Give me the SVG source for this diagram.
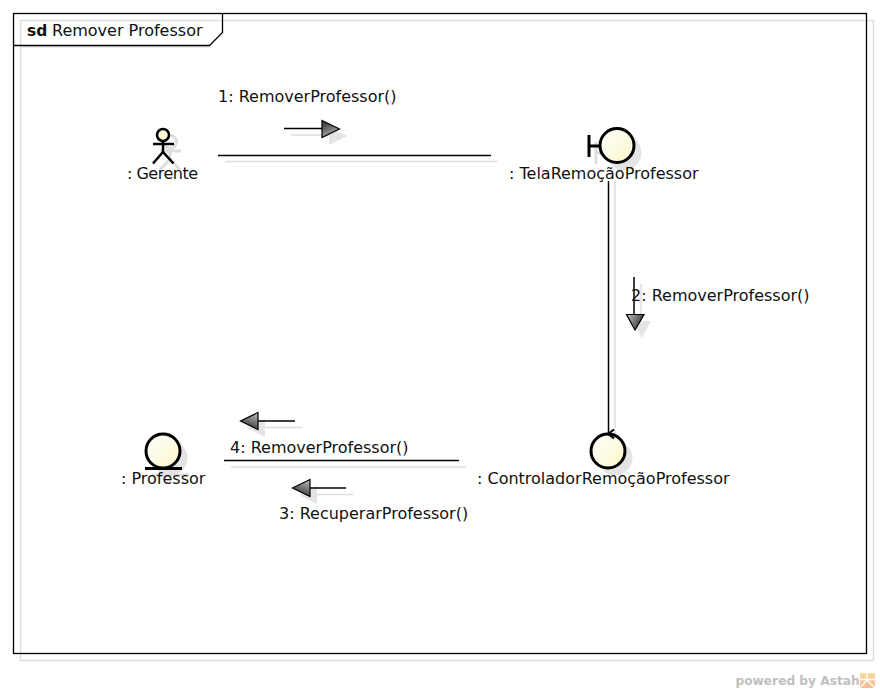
<svg xmlns="http://www.w3.org/2000/svg" width="880" height="693" viewBox="0 0 880 693">
<style>
text{font-family:"DejaVu Sans",sans-serif;font-size:16px;fill:#111}
.l{fill:none;stroke:#000;stroke-width:1.5}
.i{fill:none;stroke:#000;stroke-width:3}
.s{fill:none;stroke:#dedede;stroke-width:1.5}
.sf{fill:#e4e4e4;stroke:none}
.sc{fill:none;stroke:#dedede;stroke-width:3}
.c{fill:url(#cream);stroke:#000;stroke-width:3}
.h{stroke:#000;stroke-width:1.2}
</style>
<defs>
<linearGradient id="cream" x1="0" y1="0" x2="1" y2="1"><stop offset="0" stop-color="#ffffff"/><stop offset="1" stop-color="#fbf7c8"/></linearGradient>
<linearGradient id="gr" x1="0.2" y1="0" x2="0.6" y2="1"><stop offset="0" stop-color="#303030"/><stop offset="1" stop-color="#b8b8b8"/></linearGradient>
<linearGradient id="gd" x1="1" y1="0.6" x2="0" y2="0.2"><stop offset="0" stop-color="#303030"/><stop offset="1" stop-color="#b8b8b8"/></linearGradient>
<linearGradient id="gl" x1="0.4" y1="1" x2="0.8" y2="0"><stop offset="0" stop-color="#303030"/><stop offset="1" stop-color="#b8b8b8"/></linearGradient>
<linearGradient id="logo" x1="0" y1="0" x2="0" y2="1"><stop offset="0" stop-color="#fbdc9c"/><stop offset="1" stop-color="#f5b898"/></linearGradient>
</defs>
<rect width="880" height="693" fill="#fff"/>
<g id="frame">
<rect x="20.500" y="20.500" width="853" height="640" fill="none" stroke="#dedede" stroke-width="1.500"/>
<path d="M20 46.800H209" fill="none" stroke="#dedede" stroke-width="1.500"/>
<rect x="13.500" y="13.500" width="853" height="640" fill="none" stroke="#000" stroke-width="1.300"/>
<path d="M13 45.500H209.500L222.500 32.500V14" fill="none" stroke="#000" stroke-width="1.300"/>
<text x="27" y="36" style="font-weight:bold;font-size:15.500px">sd</text>
<text x="52" y="36">Remover Professor</text>
</g>
<g id="connectors">
<path class="s" d="M225 161.500H498M615 181V440M231 467H466"/>
<path class="l" d="M218 155.500H491M608.500 181V434M224 460.500H459"/>
<g id="msg1">
<path class="s" d="M291 135H329"/><path class="sf" d="M329 127L347 136L329 145Z"/>
<path class="l" d="M284 128.500H322"/><path class="h" fill="url(#gr)" d="M322 120.500L339.500 129L322 137.500Z"/>
<text x="218" y="102">1: RemoverProfessor()</text>
</g>
<g id="msg2">
<path class="s" d="M641 284V321"/><path class="sf" d="M633 321L651 321L642 338Z"/>
<path class="l" d="M634 277V314"/><path class="h" fill="url(#gd)" d="M626.500 314.500H644L635 330Z"/>
<text x="631" y="301">2: RemoverProfessor()</text>
</g>
<g id="msg3">
<path class="s" d="M317 494.500H353"/><path class="sf" d="M317 486L299 495L317 504Z"/>
<path class="l" d="M310 488H346"/><path class="h" fill="url(#gl)" d="M310 479.500L292.500 488L310 496.500Z"/>
<text x="279" y="519">3: RecuperarProfessor()</text>
</g>
<g id="msg4">
<path class="s" d="M265 427.500H302"/><path class="sf" d="M265 419L247 428L265 437Z"/>
<path class="l" d="M258 421H295"/><path class="h" fill="url(#gl)" d="M258 412.500L240.500 421L258 429.500Z"/>
<text x="230" y="453">4: RemoverProfessor()</text>
</g>
</g>
<g id="gerente">
<g fill="none" stroke="#dedede" stroke-width="3"><circle cx="170" cy="142" r="6.500"/><path d="M170 149V159M160 151H181M170 159L160 170M170 159L180 170"/></g>
<circle cx="163" cy="135" r="6" fill="#fdfbd8" stroke="#000" stroke-width="2.500"/>
<path d="M163 141.500V152M153 144H174M163 152L153 163.500M163 152L173.500 163.500" fill="none" stroke="#000" stroke-width="2.500"/>
<text x="127" y="179" textLength="71">: Gerente</text>
</g>
<g id="tela">
<circle cx="624" cy="152.500" r="17.500" class="sf"/>
<path class="sc" d="M596 142V164M596 153H607"/>
<path class="i" d="M589 135V157M589 146H600"/>
<circle cx="617" cy="145.500" r="17" class="c"/>
<text x="509" y="179">: TelaRemoçãoProfessor</text>
</g>
<g id="controlador">
<circle cx="615" cy="458" r="17.500" class="sf"/>
<circle cx="608" cy="451" r="17" class="c"/>
<path fill="none" stroke="#000" stroke-width="2" d="M614 429.500L608 434L614 438.500"/>
<text x="477" y="484">: ControladorRemoçãoProfessor</text>
</g>
<g id="professor">
<circle cx="170" cy="458" r="17.500" class="sf"/>
<path class="sc" d="M152 475H189"/>
<circle cx="163" cy="451" r="17" class="c"/>
<path class="i" d="M145 468.500H182"/>
<text x="121" y="484">: Professor</text>
</g>
<g id="watermark">
<text x="735.500" y="685" style="font-weight:bold;fill:#c0c0c0;font-size:12.200px">powered by Astah</text>
<rect x="860" y="673" width="15" height="15" fill="url(#logo)"/>
<path d="M860 679.500H875M867 673V679M860 688L867 680L875 688" fill="none" stroke="#fff" stroke-width="1.300"/>
</g>
</svg>
